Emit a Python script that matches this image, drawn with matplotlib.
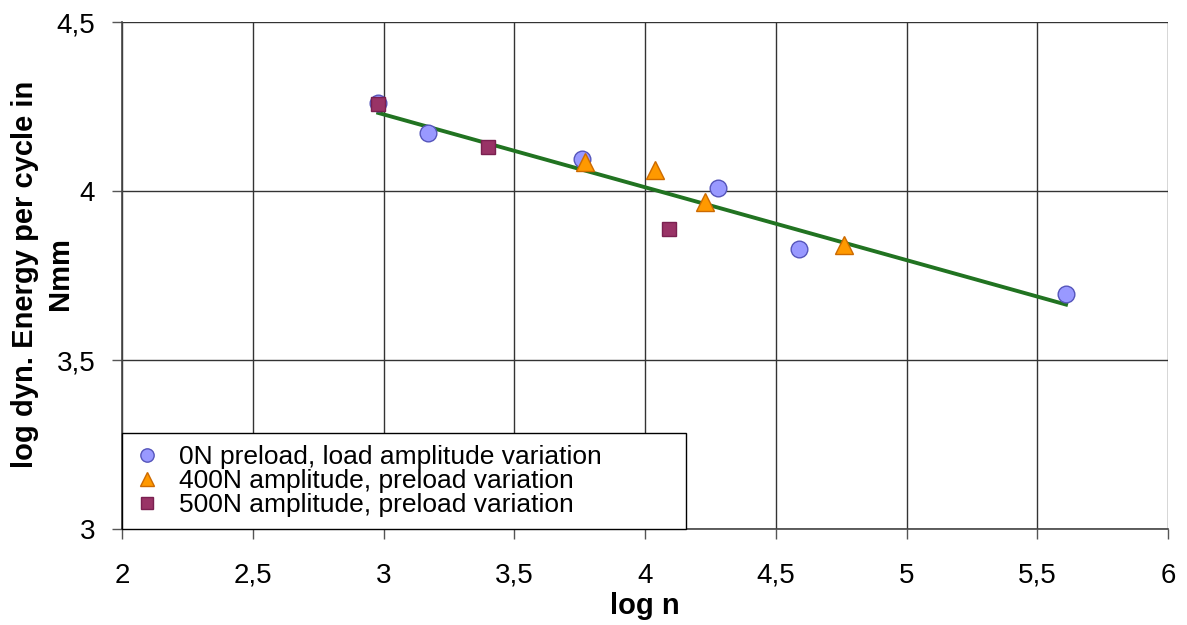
import numpy as np
import matplotlib
matplotlib.use("Agg")
from matplotlib import pyplot as plt

plt.rcParams['font.family'] = ['Liberation Sans', 'DejaVu Sans']

# 0N preload, load amplitude variation
x_0n = [2.98, 3.17, 3.76, 4.28, 4.59, 5.61]
y_0n = [4.26, 4.172, 4.096, 4.010, 3.827, 3.694]

# 400N amplitude, preload variation
x_400 = [3.77, 4.04, 4.23, 4.76]
y_400 = [4.085, 4.063, 3.966, 3.839]

# 500N amplitude, preload variation
x_500 = [2.98, 3.40, 4.09]
y_500 = [4.258, 4.131, 3.889]

# trend line end points
x_trend = [2.98, 5.61]
y_trend = [4.231, 3.664]

x_ticks = [2, 2.5, 3, 3.5, 4, 4.5, 5, 5.5, 6]
y_ticks = [3, 3.5, 4, 4.5]

y_title = ['log dyn. Energy per cycle in', 'Nmm']


def comma(v):
    s = ('%g' % v)
    return s.replace('.', ',')


fig = plt.figure(figsize=(11.87, 6.25), dpi=100)
# plot area 122..1168 px wide, 22..529 px high
ax = fig.add_axes([0.1028, 0.1536, 0.8812, 0.8112])

ax.plot(x_trend, y_trend, color='#217321', lw=2.8, zorder=2)

ax.plot(x_0n, y_0n, 'o', ms=12, mfc='#9999ff', mec='#5555bb', mew=1,
        ls='none', zorder=3, label='0N preload, load amplitude variation')
ax.plot(x_400, y_400, '^', ms=13, mfc='#ff9900', mec='#cc6a00', mew=1,
        ls='none', zorder=4, label='400N amplitude, preload variation')
ax.plot(x_500, y_500, 's', ms=10, mfc='#993366', mec='#7a2050', mew=1,
        ls='none', zorder=5, label='500N amplitude, preload variation')

ax.set_xlim(2, 6)
ax.set_ylim(3, 4.5)
ax.set_xticks(x_ticks)
ax.set_yticks(y_ticks)
ax.set_xticklabels([comma(v) for v in x_ticks])
ax.set_yticklabels([comma(v) for v in y_ticks])
ax.tick_params(axis='both', labelsize=20, length=7.2, width=1, color='#555555',
               direction='out')
ax.tick_params(axis='x', pad=17)
ax.tick_params(axis='y', pad=12)

ax.grid(True, color='#333333', lw=1)
ax.set_axisbelow(True)
for side in ['top', 'right']:
    ax.spines[side].set_visible(False)
for side in ['left', 'bottom']:
    ax.spines[side].set_color('#444444')
    ax.spines[side].set_linewidth(1.2)

ax.set_xlabel('log n', fontsize=21, fontweight='bold', va='top')
ax.xaxis.set_label_coords(0.5, -0.124)

# y title as two centred lines (baselines at about x=33 and x=68 px)
for s, xb in zip(y_title, [-0.0851, -0.0516]):
    ax.text(xb, 0.503, s, transform=ax.transAxes, rotation=90,
            rotation_mode='anchor', ha='center', va='baseline',
            fontsize=21, fontweight='bold')

leg = ax.legend(loc='lower left', bbox_to_anchor=(0.0, 0.0, 0.539, 0.185),
                mode='expand', borderaxespad=0,
                fontsize=19, frameon=True, fancybox=False, markerscale=0.8,
                handlelength=1.0, handletextpad=0.7, labelspacing=0.0,
                borderpad=0.45, edgecolor='black', framealpha=1)
leg.get_frame().set_linewidth(1)

fig.savefig('out.png', dpi=100)
